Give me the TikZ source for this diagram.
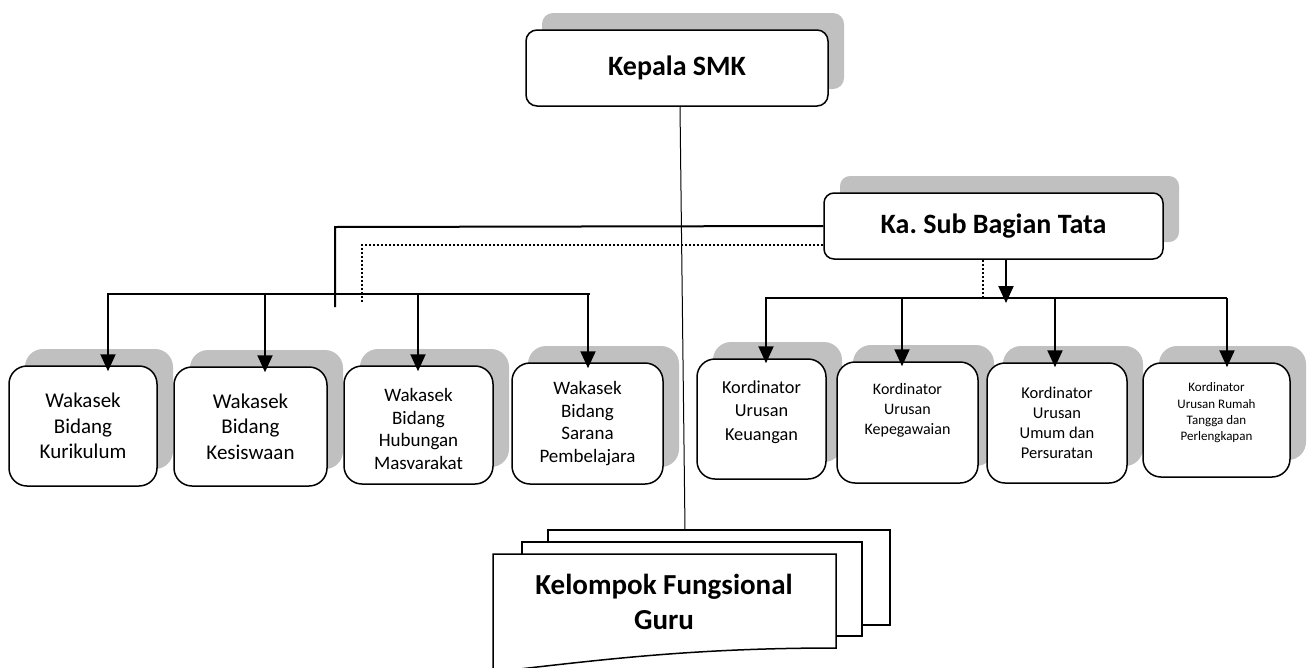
\documentclass[tikz,border=0pt]{standalone}
\usepackage{fontspec}
\setmainfont{Carlito}
\usetikzlibrary{positioning,arrows.meta,shadows,calc}
\definecolor{shadegray}{RGB}{192,192,192}
\tikzset{
  orgbox/.style ={rectangle, rounded corners=18pt, draw=black, fill=white, line width=1.5pt,
                  align=center, inner sep=2pt,
                  general shadow={fill=shadegray, shadow xshift=16pt, shadow yshift=17pt}},
  headbox/.style={orgbox, rounded corners=11pt, font=\fontsize{28}{34}\selectfont\bfseries},
  boxtext/.style={align=center, inner sep=0pt},
  link/.style   ={line width=2pt, draw=black},
  linkarr/.style={link, -{Triangle[length=17pt,width=15pt]}},
  linkdot/.style={line width=2pt, draw=black, dotted},
  sheet/.style  ={draw=black, fill=white, line width=1.5pt},
}

\begin{document}
\begin{tikzpicture}[x=1pt,y=-1pt]
\fill[white] (0,0) rectangle (1309,667);
\useasboundingbox (0,0) rectangle (1309,667);

% heads
\node[headbox, minimum width=302pt, minimum height=76pt] (kepala) at (677,68) {Kepala SMK};
\node[headbox, minimum width=339pt, minimum height=66pt, rounded corners=10pt] (kasub) at (993.5,226) {Ka.\ Sub Bagian Tata};

% wakasek
\node[orgbox, minimum width=148pt, minimum height=120pt, font=\fontsize{21}{25.5}\selectfont] (wkur) at (83,426) {Wakasek\\Bidang\\Kurikulum};
\node[orgbox, minimum width=153pt, minimum height=119pt, font=\fontsize{21}{25.5}\selectfont] (wkes) at (250.5,426.5) {Wakasek\\Bidang\\Kesiswaan};
\node[orgbox, minimum width=149pt, minimum height=118pt] (whum) at (418.5,425) {};
\node[boxtext, font=\fontsize{19}{22.7}\selectfont] (whumtxt) at ([yshift=-4pt]whum.center) {Wakasek\\Bidang\\Hubungan\\Masvarakat};
\node[orgbox, minimum width=151pt, minimum height=121pt, font=\fontsize{19}{22.7}\selectfont] (wsar) at (587.5,423.5) {Wakasek\\Bidang\\Sarana\\Pembelajara};

% kordinator
\node[orgbox, minimum width=129pt, minimum height=120pt] (kkeu) at (761.5,419) {};
\node[boxtext, font=\fontsize{18.3}{23.5}\selectfont] (kkeutxt) at ([yshift=7pt]kkeu.center) {Kordinator\\Urusan\\Keuangan};
\node[orgbox, minimum width=141pt, minimum height=121pt] (kpeg) at (907.5,422.5) {};
\node[boxtext, font=\fontsize{16}{20}\selectfont] (kpegtxt) at ([yshift=12pt]kpeg.center) {Kordinator\\Urusan\\Kepegawaian};
\node[orgbox, minimum width=140pt, minimum height=120pt, font=\fontsize{16.5}{20}\selectfont] (kumu) at (1057,423) {Kordinator\\Urusan\\Umum dan\\Persuratan};
\node[orgbox, minimum width=147pt, minimum height=114pt] (kru) at (1216.5,420) {};
\node[boxtext, font=\fontsize{13}{16.3}\selectfont] (krutxt) at ([yshift=7pt]kru.center) {Kordinator\\Urusan Rumah\\Tangga dan\\Perlengkapan};

% kelompok fungsional
\draw[sheet] (548,530) rectangle (890,625);
\draw[sheet] (522,542) rectangle (862,636);
\draw[sheet] (493,554) -- (836,554) -- (836,648) .. controls (690,648) and (600,660) .. (493,672) -- cycle;
\node[font=\fontsize{29}{35}\selectfont\bfseries, align=center] (kfg) at (664,602) {Kelompok Fungsional\\Guru};

% bus points
\coordinate (guruin) at (685,530);
\coordinate (lcorner) at (335,227);
\coordinate (lfoot) at (335,307);
\coordinate (dcorner) at (362,245);
\coordinate (dfoot) at (362,302);
\coordinate (wbusl) at (107,294);
\coordinate (wbusr) at (590,294);
\coordinate (kbusl) at (765,298);
\coordinate (kbusr) at (1227,298);
\coordinate (kasubout) at ([xshift=12.5pt]kasub.south);
\coordinate (kasubdot) at ([xshift=-10.5pt]kasub.south);

% flows
\draw[line width=1pt] ([xshift=3pt]kepala.south) -- (guruin);
\draw[link] (kasub.west) -- (lcorner) -- (lfoot);
\draw[linkdot] (kasub.west |- dcorner) -- (dcorner) -- (dfoot);
\draw[link] (wbusl) -- (wbusr);
\draw[link] (kbusl) -- (kbusr);
\draw[linkarr] (kasubout) -- ([yshift=-5pt]kasubout |- kbusl);
\draw[linkdot] (kasubdot) -- (kasubdot |- kbusl);

% arrows down
\foreach \ax/\tgt in {108/wkur, 265/wkes, 418/whum, 588/wsar}
  \draw[linkarr] (\ax,294) -- ([yshift=-6pt]\ax,0 |- \tgt.north);
\foreach \ax/\tgt in {766/kkeu, 902/kpeg, 1055/kumu, 1227/kru}
  \draw[linkarr] (\ax,298) -- ([yshift=-5pt]\ax,0 |- \tgt.north);
\end{tikzpicture}
\end{document}
